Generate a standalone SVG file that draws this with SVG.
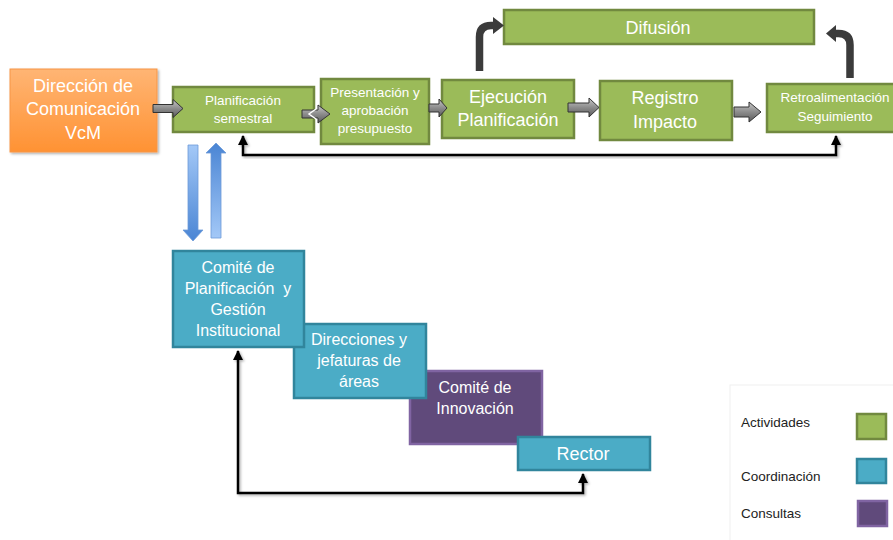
<svg xmlns="http://www.w3.org/2000/svg" width="893" height="540" viewBox="0 0 893 540">
<defs>
<linearGradient id="gOr" x1="0" y1="0" x2="0" y2="1"><stop offset="0" stop-color="#FFB574"/><stop offset="1" stop-color="#FF9233"/></linearGradient>
<linearGradient id="gGray" x1="0" y1="0" x2="0" y2="1"><stop offset="0" stop-color="#C8C8C8"/><stop offset="0.5" stop-color="#8C8C8C"/><stop offset="1" stop-color="#5A5A5A"/></linearGradient>
<linearGradient id="gBlueDown" x1="0" y1="0" x2="0" y2="1"><stop offset="0" stop-color="#A3C8F7"/><stop offset="1" stop-color="#4A85D4"/></linearGradient>
<linearGradient id="gBlueUp" x1="0" y1="0" x2="0" y2="1"><stop offset="0" stop-color="#4A85D4"/><stop offset="1" stop-color="#A3C8F7"/></linearGradient>
<filter id="sh" x="-10%" y="-10%" width="130%" height="130%"><feDropShadow dx="1.5" dy="1.5" stdDeviation="1.2" flood-color="#000" flood-opacity="0.3"/></filter>
<marker id="ah" viewBox="0 0 10 10" refX="9" refY="5" markerWidth="4" markerHeight="4" orient="auto-start-reverse"><path d="M0,0 L10,5 L0,10 z" fill="#000"/></marker>
</defs>
<style>
.t{font-family:"Liberation Sans",Arial,sans-serif;fill:#fff;text-anchor:middle}
.green{fill:#9BBB59;stroke:#71893F;stroke-width:2.5}
.blue{fill:#4BACC6;stroke:#31859C;stroke-width:2.5}
.purple{fill:#604A7B;stroke:#8064A2;stroke-width:2.5}
.ga{fill:url(#gGray);stroke:#333;stroke-width:1}
.bent{fill:none;stroke:#3B3B3B;stroke-width:7.5}
.head{fill:#3B3B3B}
.fb{fill:none;stroke:#000;stroke-width:2.5;marker-start:url(#ah);marker-end:url(#ah)}
.lg{font-family:"Liberation Sans",Arial,sans-serif;font-size:13.5px;fill:#222}
</style>
<rect x="0" y="0" width="893" height="540" fill="#fff"/>

<g id="legend">
<rect x="730" y="385" width="175" height="165" fill="#fff" stroke="#EFEFEF" stroke-width="1"/>
<text class="lg" x="741" y="427">Actividades</text>
<text class="lg" x="741" y="481">Coordinación</text>
<text class="lg" x="741" y="518">Consultas</text>
<rect class="green" x="857" y="414" width="29" height="25"/>
<rect class="blue" x="857" y="459" width="29" height="24"/>
<rect class="purple" x="858" y="501" width="29" height="25"/>
</g>

<g id="n-direccion">
<rect x="10" y="69" width="147" height="83" fill="url(#gOr)" stroke="#F79646" stroke-width="1" filter="url(#sh)"/>
<text class="t" font-size="18" x="83" y="92">Dirección de</text>
<text class="t" font-size="18" x="83" y="115">Comunicación</text>
<text class="t" font-size="18" x="83" y="139">VcM</text>
</g>

<g id="n-planificacion">
<rect class="green" x="173" y="87" width="141" height="45"/>
<text class="t" font-size="13.5" x="243" y="105">Planificación</text>
<text class="t" font-size="13.5" x="243" y="123">semestral</text>
</g>

<g id="n-presentacion">
<rect class="green" x="321" y="79" width="108" height="65"/>
<text class="t" font-size="13.5" x="375" y="97">Presentación y</text>
<text class="t" font-size="13.5" x="375" y="115">aprobación</text>
<text class="t" font-size="13.5" x="375" y="133">presupuesto</text>
</g>

<g id="n-ejecucion">
<rect class="green" x="442" y="80" width="132" height="58"/>
<text class="t" font-size="18" x="508" y="103">Ejecución</text>
<text class="t" font-size="18" x="508" y="126">Planificación</text>
</g>

<g id="n-registro">
<rect class="green" x="600" y="81" width="132" height="59"/>
<text class="t" font-size="18" x="665" y="104">Registro</text>
<text class="t" font-size="18" x="665" y="128">Impacto</text>
</g>

<g id="n-retro">
<rect class="green" x="767" y="84" width="140" height="48"/>
<text class="t" font-size="13.5" x="835" y="102">Retroalimentación</text>
<text class="t" font-size="13.5" x="835" y="121">Seguimiento</text>
</g>

<g id="n-difusion">
<rect class="green" x="504" y="10" width="310" height="34"/>
<text class="t" font-size="18" x="658" y="34">Difusión</text>
</g>

<g id="n-innovacion">
<rect class="purple" x="410" y="371" width="132" height="73"/>
<text class="t" font-size="16" x="475" y="393">Comité de</text>
<text class="t" font-size="16" x="475" y="414">Innovación</text>
</g>

<g id="n-rector">
<rect class="blue" x="518" y="437" width="132" height="33"/>
<text class="t" font-size="18" x="583" y="460">Rector</text>
</g>

<g id="n-direcciones">
<rect class="blue" x="294" y="324" width="132" height="74"/>
<text class="t" font-size="16" x="359" y="345">Direcciones y</text>
<text class="t" font-size="16" x="359" y="366">jefaturas de</text>
<text class="t" font-size="16" x="359" y="387">áreas</text>
</g>

<g id="n-comite">
<rect class="blue" x="173" y="251" width="131" height="96"/>
<text class="t" font-size="16" x="238" y="273">Comité de</text>
<text class="t" font-size="16" x="238" y="294" xml:space="preserve">Planificación  y</text>
<text class="t" font-size="16" x="238" y="315">Gestión</text>
<text class="t" font-size="16" x="238" y="336">Institucional</text>
</g>

<g id="connectors">
<path class="fb" d="M243,136 V155 H836 V136" filter="url(#sh)"/>
<path class="fb" d="M238,351 V493 H583 V474" filter="url(#sh)"/>
<path class="ga" d="M153,104.5 H173 V99.5 L183,108.5 L173,117.5 V112.5 H153 Z"/>
<path class="ga" d="M302,110 H318 V105 L330,114 L318,123 V118 H302 Z"/>
<path d="M316,109 L309,114 L316,119" fill="none" stroke="#fff" stroke-width="1.5"/>
<path class="ga" d="M429,104 H439 V99 L447,108 L439,117 V112 H429 Z"/>
<path class="ga" d="M568,103 H589 V98 L599,107.5 L589,117 V112 H568 Z"/>
<path class="ga" d="M734,107 H749 V102 L761,112 L749,122 V117 H734 Z"/>
<path class="bent" d="M479.5,71 V37 Q479.5,25.5 491,25.5 H495"/>
<path class="head" d="M493,17 L504,25.5 L493,34 Z"/>
<path class="bent" d="M850,78 V45 Q850,33.5 838.5,33.5 H834"/>
<path class="head" d="M836,25 L826,33.5 L836,42 Z"/>
<path d="M188,145 H198 V230 H203 L193,241 L183,230 H188 Z" fill="url(#gBlueDown)" stroke="#6C9BD8" stroke-width="0.8"/>
<path d="M211,238 V153 H206 L216,143 L226,153 H221 V238 Z" fill="url(#gBlueUp)" stroke="#6C9BD8" stroke-width="0.8"/>
</g>
</svg>
